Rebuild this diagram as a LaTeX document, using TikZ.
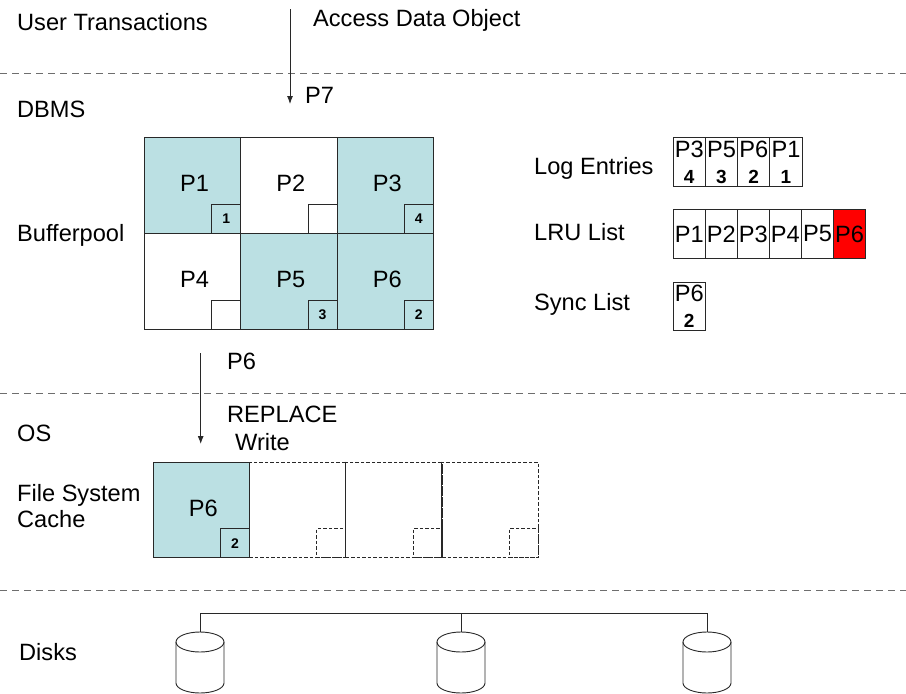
\documentclass[tikz,border=0pt]{standalone}
\usepackage{fontspec}
\setmainfont{Liberation Sans}
\usetikzlibrary{arrows.meta}
\definecolor{tealfill}{RGB}{187,224,227}
\definecolor{edgecol}{RGB}{40,40,40}
\definecolor{dashgray}{RGB}{110,110,110}
\begin{document}
\begin{tikzpicture}[x=1pt,y=-1pt,
  txt/.style={font=\fontsize{23.6}{28}\selectfont, inner sep=0pt, anchor=base west},
  clabel/.style={font=\fontsize{23.6}{28}\selectfont, inner sep=0pt},
  cell/.style={draw=edgecol, line width=0.9pt, minimum width=96.3pt, minimum height=96pt, inner sep=0pt, anchor=north west},
  dcell/.style={draw=edgecol, line width=0.8pt, dash pattern=on 3.5pt off 2pt, minimum width=96.3pt, minimum height=95.6pt, inner sep=0pt, anchor=north west},
  sbox/.style={draw=edgecol, line width=0.9pt, minimum width=29pt, minimum height=29pt, inner sep=0pt, anchor=south east, font=\fontsize{14}{16}\selectfont\bfseries},
  dsbox/.style={draw=edgecol, line width=0.8pt, dash pattern=on 3.5pt off 2pt, minimum width=29pt, minimum height=29pt, inner sep=0pt, anchor=south east},
  lcell/.style={draw=edgecol, line width=0.9pt, minimum width=32.2pt, minimum height=48.4pt, inner sep=0pt, anchor=north west},
  btxt/.style={font=\fontsize{19}{21}\selectfont\bfseries, inner sep=0pt},
  sepline/.style={draw=dashgray, line width=0.9pt, dash pattern=on 7pt off 5pt},
  arr/.style={draw=edgecol, line width=0.9pt, -{Latex[length=8pt,width=6pt]}},
  thinline/.style={draw=edgecol, line width=0.9pt}
]
\fill[white] (0,0) rectangle (906,694);
\useasboundingbox (0,0) rectangle (906,694);

% separators
\coordinate (s1a) at (0,73);  \coordinate (s1b) at (906,73);
\coordinate (s2a) at (0,393); \coordinate (s2b) at (906,393);
\coordinate (s3a) at (0,590); \coordinate (s3b) at (906,590);
\draw[sepline] (s1a) -- (s1b);
\draw[sepline] (s2a) -- (s2b);
\draw[sepline] (s3a) -- (s3b);

% layer labels
\node[txt] (lut) at (17,30) {User Transactions};
\node[txt] (ldbms) at (17,117) {DBMS};
\node[txt] (lbuf) at (17,241.5) {Bufferpool};
\node[txt] (los) at (17,441.5) {OS};
\node[txt] (lfs1) at (17,501) {File System};
\node[txt] (lfs2) at (17,527.5) {Cache};
\node[txt] (ldisk) at (19,660.5) {Disks};

% arrow 1
\coordinate (a1s) at (290,9);
\coordinate (a1e) at (290,104);
\draw[arr] (a1s) -- (a1e);
\node[txt] (lacc) at (313,26) {Access Data Object};
\node[txt] (lp7) at (305,103.5) {P7};

% bufferpool
\node[cell, fill=tealfill] (c1) at (144,137) {};
\node[cell] (c2) at (240.3,137) {};
\node[cell, fill=tealfill] (c3) at (336.6,137) {};
\node[cell] (c4) at (144,233) {};
\node[cell, fill=tealfill] (c5) at (240.3,233) {};
\node[cell, fill=tealfill] (c6) at (336.6,233) {};
\node[clabel] (c1l) at ([shift={(2pt,2pt)}]c1.center) {P1};
\node[clabel] (c2l) at ([shift={(2pt,2pt)}]c2.center) {P2};
\node[clabel] (c3l) at ([shift={(2pt,2pt)}]c3.center) {P3};
\node[clabel] (c4l) at ([shift={(2pt,2pt)}]c4.center) {P4};
\node[clabel] (c5l) at ([shift={(2pt,2pt)}]c5.center) {P5};
\node[clabel] (c6l) at ([shift={(2pt,2pt)}]c6.center) {P6};
\node[sbox, fill=tealfill] (sb1) at (c1.south east) {1};
\node[sbox, fill=white] (sb2) at (c2.south east) {};
\node[sbox, fill=tealfill] (sb3) at (c3.south east) {4};
\node[sbox, fill=white] (sb4) at (c4.south east) {};
\node[sbox, fill=tealfill] (sb5) at (c5.south east) {3};
\node[sbox, fill=tealfill] (sb6) at (c6.south east) {2};

% right-hand lists
\node[txt] (llog) at (534,174.5) {Log Entries};
\node[txt] (llru) at (534,240.5) {LRU List};
\node[txt] (lsync) at (534,310.5) {Sync List};

\foreach \i/\p/\n in {0/P3/4,1/P5/3,2/P6/2,3/P1/1}{
  \node[lcell] (le\i) at ({672.7+32.25*\i},137.3) {};
  \node[clabel] (le\i t) at ([yshift=-12pt]le\i.north) {\p};
  \node[btxt] (le\i b) at ([yshift=10pt]le\i.south) {\n};
}
\foreach \i/\p in {0/P1,1/P2,2/P3,3/P4,4/P5}{
  \node[lcell] (r\i) at ({672.7+32.05*\i},209.3) {};
  \node[clabel] (r\i t) at (r\i.center) {\p};
}
\node[lcell, fill=red] (r5) at ({672.7+32.05*5},209.3) {};
\node[clabel] (r5t) at (r5.center) {P6};

\node[lcell] (sy) at (672.7,281.7) {};
\node[clabel] (syt) at ([yshift=-11.5pt]sy.north) {P6};
\node[btxt] (syb) at ([yshift=10pt]sy.south) {2};

% arrow 2
\coordinate (a2s) at (200.7,353);
\coordinate (a2e) at (200.7,444);
\draw[arr] (a2s) -- (a2e);
\node[txt] (lp6) at (227,369.5) {P6};
\node[txt] (lrep) at (227,422) {REPLACE};
\node[txt] (lwr) at (235,450.5) {Write};

% file system cache
\node[dcell] (f2) at (249,461.7) {};
\node[dcell] (f3) at (345.3,461.7) {};
\node[dcell] (f4) at (441.6,461.7) {};
\draw[thinline] (f3.north west) -- (f3.south west);
\draw[thinline] (f4.north west) -- (f4.south west);
\node[cell, minimum height=95.6pt, fill=tealfill] (f1) at (152.7,461.7) {};
\node[clabel] (f1l) at ([shift={(2pt,2pt)}]f1.center) {P6};
\node[sbox, fill=tealfill] (fs1) at (f1.south east) {2};
\node[dsbox] (fs2) at (f2.south east) {};
\node[dsbox] (fs3) at (f3.south east) {};
\node[dsbox] (fs4) at (f4.south east) {};

% disks
\foreach \k/\cx in {1/200,2/461,3/707}{
  \coordinate (dt\k) at (\cx,632);
  \coordinate (bus\k) at (\cx,613);
  \filldraw[thinline, fill=white] (\cx-24,642) -- (\cx-24,683) arc[start angle=180, end angle=360, x radius=24pt, y radius=10pt] -- (\cx+24,642);
  \draw[thinline] (\cx,642) ellipse [x radius=24pt, y radius=10pt];
}
\draw[thinline] (dt1) -- (bus1) -- (bus3) -- (dt3);
\draw[thinline] (bus2) -- (dt2);
\end{tikzpicture}
\end{document}
